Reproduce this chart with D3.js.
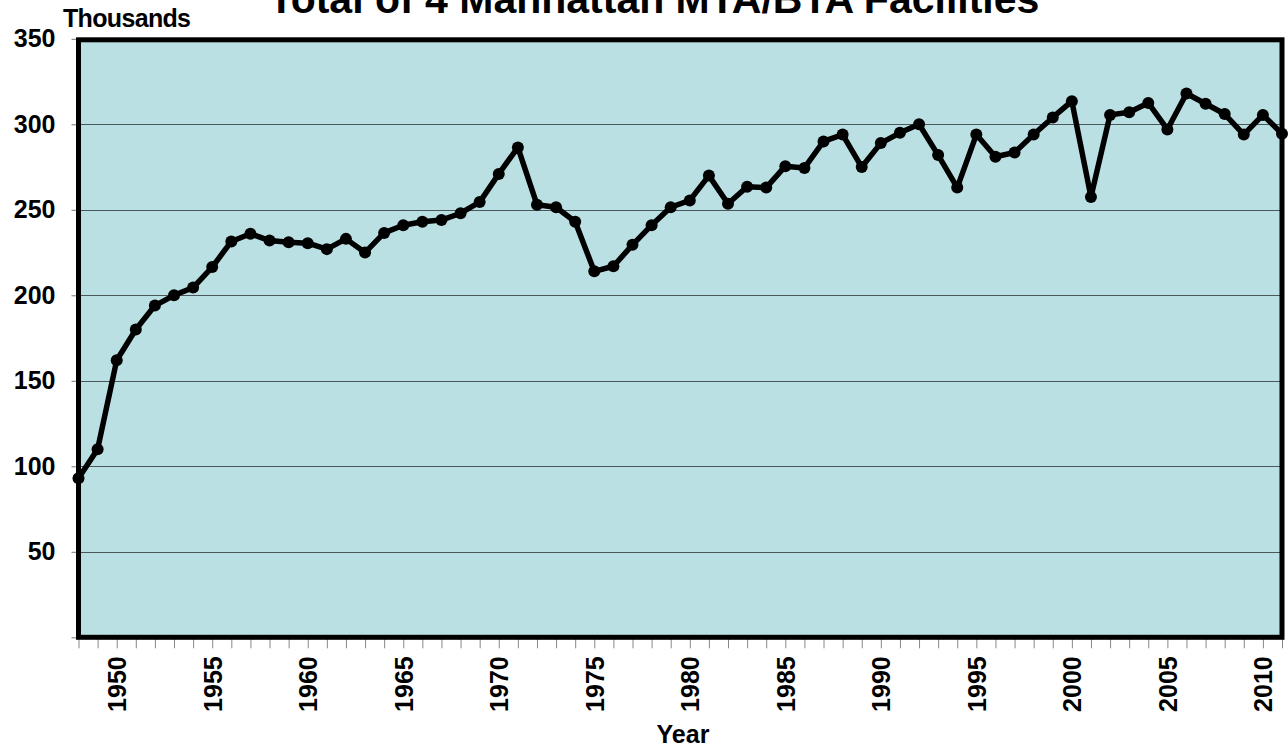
<!DOCTYPE html>
<html>
<head>
<meta charset="utf-8">
<script src="https://cdn.jsdelivr.net/npm/d3@7"></script>
<style>
  body { margin: 0; background: #fff; }
  svg text { font-family: "Liberation Sans", Arial, sans-serif; font-weight: bold; fill: #000; }
</style>
</head>
<body>
<div id="chart"></div>
<script>
// Data (thousands of vehicles)
const years = [1948, 1949, 1950, 1951, 1952, 1953, 1954, 1955, 1956, 1957,
               1958, 1959, 1960, 1961, 1962, 1963, 1964, 1965, 1966, 1967,
               1968, 1969, 1970, 1971, 1972, 1973, 1974, 1975, 1976, 1977,
               1978, 1979, 1980, 1981, 1982, 1983, 1984, 1985, 1986, 1987,
               1988, 1989, 1990, 1991, 1992, 1993, 1994, 1995, 1996, 1997,
               1998, 1999, 2000, 2001, 2002, 2003, 2004, 2005, 2006, 2007,
               2008, 2009, 2010, 2011];
const totals = [93, 110, 162, 180, 194, 200, 204.5, 216.5, 231.5, 236,
                232, 231, 230.5, 227, 233, 225, 236.5, 241, 243, 244,
                248, 254.5, 271, 286.5, 253, 251.5, 243, 214, 217, 229.5,
                241, 251.5, 255.5, 270, 253.5, 263.5, 263, 275.5, 274.5, 290,
                294, 275, 289, 295, 300, 282, 263, 294, 281, 283.5,
                294, 304, 313.5, 257.5, 305.5, 307, 312.5, 297, 318, 312,
                306, 294, 305.5, 294.5];
const yTicks = [0, 50, 100, 150, 200, 250, 300, 350];
const yearLabels = [1950, 1955, 1960, 1965, 1970, 1975, 1980, 1985, 1990, 1995, 2000, 2005, 2010];

const width = 1288, height = 749;
const plotLeft = 78.5, plotRight = 1282, plotTop = 38.8, plotBottom = 637.3;

const svg = d3.select("#chart").append("svg")
    .attr("width", width)
    .attr("height", height);

const x = d3.scaleLinear().domain([years[0], years[years.length - 1]]).range([plotLeft, plotRight]);
const y = d3.scaleLinear().domain([0, 350]).range([plotBottom, plotTop]);

// Plot background
svg.append("rect")
    .attr("x", plotLeft)
    .attr("y", plotTop)
    .attr("width", plotRight - plotLeft)
    .attr("height", plotBottom - plotTop)
    .attr("fill", "#bbe0e3");

// Gridlines
svg.selectAll(".grid")
    .data(yTicks.filter(d => d > 0))
    .enter().append("line")
    .attr("class", "grid")
    .attr("x1", plotLeft)
    .attr("x2", plotRight)
    .attr("y1", d => Math.round(y(d)) + 0.5)
    .attr("y2", d => Math.round(y(d)) + 0.5)
    .attr("stroke", "#4a5859")
    .attr("stroke-width", 1);

// Y axis
const yAxis = svg.append("g")
    .attr("transform", `translate(${plotLeft},0)`)
    .call(d3.axisLeft(y).tickValues(yTicks).tickSize(7).tickPadding(16)
        .tickFormat(d => d === 0 ? "" : d));
yAxis.select(".domain").remove();
yAxis.selectAll(".tick line").attr("stroke", "#777");
yAxis.selectAll("text").style("font-size", "25px");

// X axis: a tick every year, labels every five years
const xAxis = svg.append("g")
    .attr("transform", `translate(0,${plotBottom})`)
    .call(d3.axisBottom(x).tickValues(years).tickSize(11)
        .tickFormat(d => yearLabels.includes(d) ? d : ""));
xAxis.select(".domain").remove();
xAxis.selectAll(".tick line").attr("stroke", "#888");
xAxis.selectAll("text")
    .style("font-size", "25px")
    .attr("transform", "rotate(-90)")
    .attr("text-anchor", "end")
    .attr("x", -19)
    .attr("y", 0)
    .attr("dy", "0.36em");

// Frame
svg.append("rect")
    .attr("x", plotLeft)
    .attr("y", plotTop + 1)
    .attr("width", plotRight - plotLeft)
    .attr("height", plotBottom - plotTop - 1)
    .attr("fill", "none")
    .attr("stroke", "#000")
    .attr("stroke-width", 5);

// Series line and markers
const line = d3.line()
    .x((d, i) => x(years[i]))
    .y(d => y(d));

svg.append("path")
    .datum(totals)
    .attr("d", line)
    .attr("fill", "none")
    .attr("stroke", "#000")
    .attr("stroke-width", 5.5)
    .attr("stroke-linejoin", "round");

svg.selectAll(".dot")
    .data(totals)
    .enter().append("circle")
    .attr("class", "dot")
    .attr("cx", (d, i) => x(years[i]))
    .attr("cy", d => y(d))
    .attr("r", 6)
    .attr("fill", "#000");

// Titles
svg.append("text")
    .attr("x", 654)
    .attr("y", 13)
    .attr("text-anchor", "middle")
    .style("font-size", "41px")
    .text("Total of 4 Manhattan MTA/BTA Facilities");

svg.append("text")
    .attr("x", 63)
    .attr("y", 27)
    .attr("textLength", 128)
    .style("font-size", "25px")
    .text("Thousands");

svg.append("text")
    .attr("x", 683)
    .attr("y", 743)
    .attr("text-anchor", "middle")
    .style("font-size", "25px")
    .text("Year");
</script>
</body>
</html>
